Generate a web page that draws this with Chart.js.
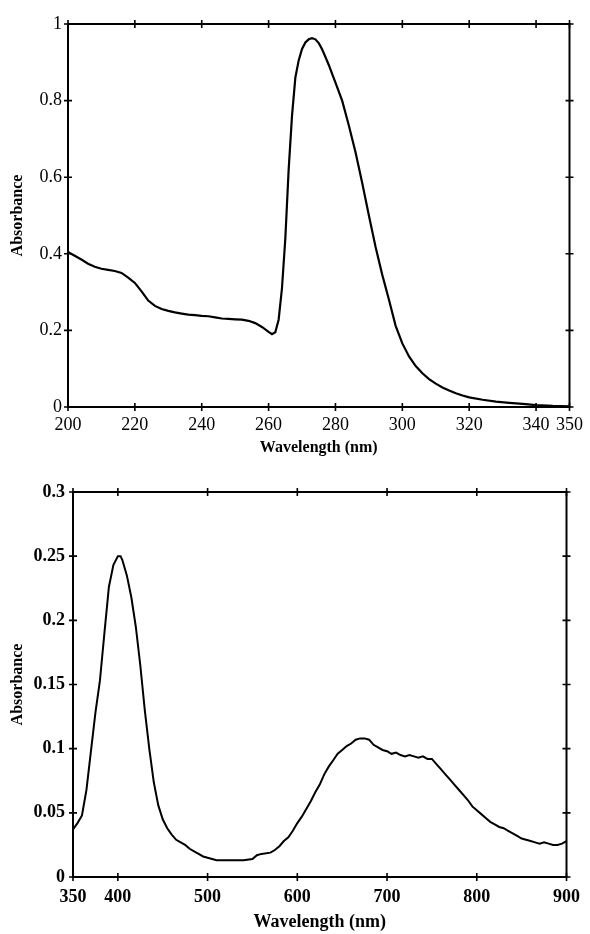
<!DOCTYPE html>
<html>
<head>
<meta charset="utf-8">
<script src="https://cdn.jsdelivr.net/npm/chart.js@4/dist/chart.umd.min.js"></script>
<style>
  html, body { margin: 0; padding: 0; background: #fff; }
  canvas { display: block; }
</style>
</head>
<body>
<canvas id="top" width="590" height="465"></canvas>
<canvas id="bottom" width="590" height="469"></canvas>
<script>
// ---- Top panel (UV region) ----
const topWavelength = [200,202,204,206,208,210,212,214,216,218,220,222,224,226,228,230,232,234,236,238,240,242,244,246,248,250,252,254,256,258,260,261,262,263,264,265,266,267,268,269,270,271,272,273,274,275,276,277,278,279,280,282,284,286,288,290,292,294,296,298,300,302,304,306,308,310,312,314,316,318,320,324,328,332,336,340,345,350];
const topAbsorbance = [0.405,0.395,0.385,0.374,0.366,0.361,0.358,0.355,0.350,0.338,0.324,0.302,0.278,0.264,0.256,0.251,0.247,0.244,0.241,0.240,0.238,0.237,0.234,0.231,0.230,0.229,0.228,0.225,0.219,0.209,0.196,0.190,0.195,0.228,0.310,0.440,0.620,0.760,0.860,0.905,0.935,0.952,0.960,0.963,0.960,0.950,0.934,0.914,0.893,0.870,0.847,0.800,0.735,0.665,0.585,0.500,0.418,0.345,0.280,0.212,0.166,0.132,0.107,0.088,0.073,0.061,0.051,0.043,0.036,0.030,0.025,0.019,0.014,0.011,0.008,0.005,0.003,0.002];
const topXTicks = [200,220,240,260,280,300,320,340,350];
const topXLabels = ['200','220','240','260','280','300','320','340','350'];
const topYTicks = [0,0.2,0.4,0.6,0.8,1];
const topYLabels = ['0','0.2','0.4','0.6','0.8','1'];

// ---- Bottom panel (visible region) ----
const bottomWavelength = [350,355,360,365,370,375,380,385,390,395,400,403,405,410,415,420,425,430,435,440,445,450,455,460,465,470,475,480,485,490,495,500,510,520,530,540,550,555,560,570,575,580,585,590,595,600,605,610,615,620,625,630,635,640,645,650,655,660,665,670,675,680,685,690,695,700,705,710,715,720,725,730,735,740,745,750,755,760,765,770,775,780,785,790,795,800,805,810,815,820,825,830,835,840,845,850,855,860,865,870,875,880,885,890,895,900];
const bottomAbsorbance = [0.037,0.042,0.048,0.068,0.098,0.128,0.153,0.190,0.226,0.243,0.250,0.250,0.247,0.235,0.218,0.195,0.165,0.130,0.100,0.074,0.056,0.045,0.038,0.033,0.029,0.027,0.025,0.022,0.020,0.018,0.016,0.015,0.013,0.013,0.013,0.013,0.014,0.017,0.018,0.019,0.021,0.024,0.028,0.031,0.036,0.042,0.047,0.053,0.059,0.066,0.072,0.080,0.086,0.091,0.096,0.099,0.102,0.104,0.107,0.108,0.108,0.107,0.103,0.101,0.099,0.098,0.096,0.097,0.095,0.094,0.095,0.094,0.093,0.094,0.092,0.092,0.088,0.084,0.080,0.076,0.072,0.068,0.064,0.060,0.055,0.052,0.049,0.046,0.043,0.041,0.039,0.038,0.036,0.034,0.032,0.030,0.029,0.028,0.027,0.026,0.027,0.026,0.025,0.025,0.026,0.028];
const bottomXTicks = [350,400,500,600,700,800,900];
const bottomXLabels = ['350','400','500','600','700','800','900'];
const bottomYTicks = [0,0.05,0.1,0.15,0.2,0.25,0.3];
const bottomYLabels = ['0','0.05','0.1','0.15','0.2','0.25','0.3'];

const SERIF = "'Liberation Serif', 'Times New Roman', serif";

const framePlugin = {
  id: 'frame',
  afterDatasetsDraw(chart) {
    const { ctx, chartArea: { left, right, top, bottom }, scales: { x, y } } = chart;
    const t = 4;
    ctx.save();
    ctx.strokeStyle = '#000';
    ctx.lineWidth = 2;
    ctx.strokeRect(left, top, right - left, bottom - top);
    ctx.lineWidth = 1.6;
    ctx.beginPath();
    x.ticks.forEach(tk => {
      const px = x.getPixelForValue(tk.value);
      ctx.moveTo(px, bottom - t); ctx.lineTo(px, bottom + t);
      ctx.moveTo(px, top - t); ctx.lineTo(px, top + t);
    });
    y.ticks.forEach(tk => {
      const py = y.getPixelForValue(tk.value);
      ctx.moveTo(left - t, py); ctx.lineTo(left + t, py);
      ctx.moveTo(right - t, py); ctx.lineTo(right + t, py);
    });
    ctx.stroke();
    ctx.restore();
  }
};

function makeChart(id, cfg) {
  const pts = cfg.xs.map((v, i) => ({ x: v, y: cfg.ys[i] }));
  return new Chart(document.getElementById(id), {
    type: 'line',
    data: { datasets: [{ data: pts, borderColor: '#000', borderWidth: cfg.lineW, pointRadius: 0, tension: 0, fill: false }] },
    options: {
      responsive: false,
      animation: false,
      devicePixelRatio: 1,
      layout: { padding: cfg.pad },
      plugins: { legend: { display: false }, tooltip: { enabled: false } },
      scales: {
        x: {
          type: 'linear', position: 'bottom',
          min: cfg.xTicks[0], max: cfg.xTicks[cfg.xTicks.length - 1],
          grid: { display: false, drawTicks: false },
          border: { display: false },
          afterBuildTicks: s => { s.ticks = cfg.xTicks.map(v => ({ value: v })); },
          afterFit: s => { s.height = cfg.xH; },
          ticks: {
            autoSkip: false, maxRotation: 0, color: '#000', padding: cfg.xPad,
            font: { family: SERIF, size: 18, weight: cfg.tickWeight },
            callback: (v, i) => cfg.xLabels[i]
          },
          title: {
            display: true, text: 'Wavelength (nm)', color: '#000',
            font: { family: SERIF, size: cfg.xTitleSize, weight: 'bold' },
            padding: { top: 0, bottom: cfg.xTitlePad }
          }
        },
        y: {
          type: 'linear', position: 'left',
          min: cfg.yTicks[0], max: cfg.yTicks[cfg.yTicks.length - 1],
          grid: { display: false, drawTicks: false },
          border: { display: false },
          afterBuildTicks: s => { s.ticks = cfg.yTicks.map(v => ({ value: v })); },
          afterFit: s => { s.width = cfg.yW; },
          ticks: {
            color: '#000', padding: cfg.yPad,
            font: { family: SERIF, size: 18, weight: cfg.tickWeight },
            callback: (v, i) => cfg.yLabels[i]
          },
          title: {
            display: true, text: 'Absorbance', color: '#000',
            font: { family: SERIF, size: 16, weight: 'bold' },
            padding: { top: 8, bottom: 0 }
          }
        }
      }
    },
    plugins: [framePlugin]
  });
}

makeChart('top', {
  xs: topWavelength, ys: topAbsorbance,
  xTicks: topXTicks, xLabels: topXLabels, yTicks: topYTicks, yLabels: topYLabels,
  pad: { top: 24, right: 15, left: 0, bottom: 0 },
  xH: 58, yW: 68, xPad: 7, yPad: 6, tickWeight: 'normal',
  xTitleSize: 16, xTitlePad: 8, lineW: 2.2
});

makeChart('bottom', {
  xs: bottomWavelength, ys: bottomAbsorbance,
  xTicks: bottomXTicks, xLabels: bottomXLabels, yTicks: bottomYTicks, yLabels: bottomYLabels,
  pad: { top: 27, right: 19, left: 0, bottom: 0 },
  xH: 57, yW: 73, xPad: 10, yPad: 8, tickWeight: 'bold',
  xTitleSize: 18, xTitlePad: 1, lineW: 2
});
</script>
</body>
</html>
